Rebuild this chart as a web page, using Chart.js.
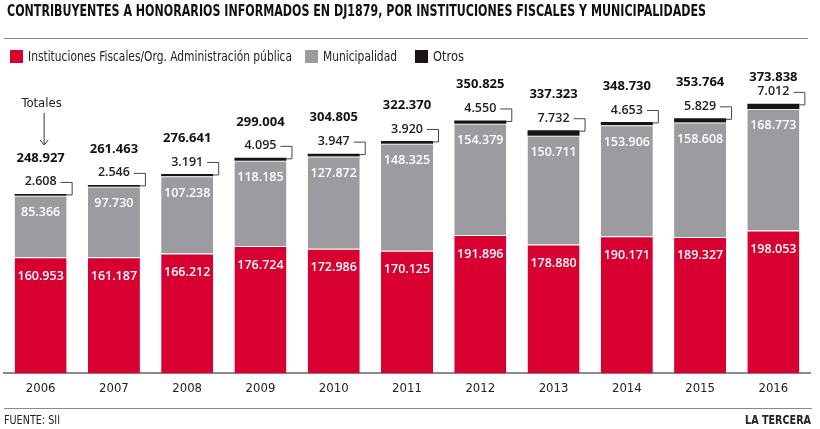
<!DOCTYPE html>
<html>
<head>
<meta charset="utf-8">
<script src="https://cdn.jsdelivr.net/npm/chart.js@4.4.1/dist/chart.umd.min.js"></script>
<style>
  body { margin: 0; background: #fff; }
  canvas { display: block; }
</style>
</head>
<body>
<canvas id="chart" width="820" height="429"></canvas>
<script>
// data
const years = ['2006', '2007', '2008', '2009', '2010', '2011', '2012', '2013', '2014', '2015', '2016'];
const fiscales = [160953, 161187, 166212, 176724, 172986, 170125, 191896, 178880, 190171, 189327, 198053];
const municipalidad = [85366, 97730, 107238, 118185, 127872, 148325, 154379, 150711, 153906, 158608, 168773];
const otros = [2608, 2546, 3191, 4095, 3947, 3920, 4550, 7732, 4653, 5829, 7012];
const totales = [248927, 261463, 276641, 299004, 304805, 322370, 350825, 337323, 348730, 353764, 373838];

const seriesNames = ['Instituciones Fiscales/Org. Administración pública', 'Municipalidad', 'Otros'];
const titleText = 'CONTRIBUYENTES A HONORARIOS INFORMADOS EN DJ1879, POR INSTITUCIONES FISCALES Y MUNICIPALIDADES';

const RED = '#d70030';
const GREY = '#9c9ba0';
const BLACK = '#1b1416';
const COND = '"DejaVu Sans Condensed", sans-serif';
const NUM = '"Open Sans", sans-serif';

function fmt(n) {
    return String(n).replace(/\B(?=(\d{3})+(?!\d))/g, '.');
}

// draw text squeezed to a given width
function fillFit(ctx, text, x, y, width) {
    const w = ctx.measureText(text).width;
    ctx.save();
    ctx.translate(x, y);
    ctx.scale(Math.min(1, width / w), 1);
    ctx.fillText(text, 0, 0);
    ctx.restore();
}

// numbers on and above the bars
const barLabels = {
    id: 'barLabels',
    afterDatasetsDraw(chart) {
        const ctx = chart.ctx;
        const red = chart.getDatasetMeta(0).data;
        const grey = chart.getDatasetMeta(1).data;
        const blk = chart.getDatasetMeta(2).data;
        ctx.save();
        ctx.textAlign = 'center';
        ctx.textBaseline = 'middle';
        for (let i = 0; i < years.length; i++) {
            ctx.fillStyle = '#fff';
            ctx.font = '600 12.5px ' + NUM;
            ctx.fillText(fmt(fiscales[i]), red[i].x, red[i].y + 19);
            ctx.fillText(fmt(municipalidad[i]), grey[i].x, grey[i].y + 17);

            // otros value with its bracket
            const b = blk[i];
            const oy = b.y - 12;
            ctx.fillStyle = '#222';
            ctx.font = '600 12.5px ' + NUM;
            const txt = fmt(otros[i]);
            ctx.fillText(txt, b.x, oy);
            const w = ctx.measureText(txt).width;
            const right = b.x + b.width / 2 + 5;
            ctx.strokeStyle = '#444';
            ctx.lineWidth = 1;
            ctx.beginPath();
            ctx.moveTo(b.x + w / 2 + 4, oy + 0.5);
            ctx.lineTo(right + 0.5, oy + 0.5);
            ctx.lineTo(right + 0.5, b.y + 1);
            ctx.lineTo(right - 5, b.y + 1);
            ctx.stroke();

            // total
            ctx.fillStyle = '#111';
            ctx.font = 'bold 13px ' + NUM;
            const ty = Math.max(oy - 24, 77);
            ctx.fillText(fmt(totales[i]), b.x, ty);
        }

        // "Totales" note with arrow over the first bar
        const first = blk[0];
        ctx.fillStyle = '#222';
        ctx.font = '13px ' + COND;
        ctx.fillText('Totales', first.x + 1, 104);
        ctx.strokeStyle = '#333';
        ctx.beginPath();
        ctx.moveTo(first.x + 3.5, 113);
        ctx.lineTo(first.x + 3.5, 145);
        ctx.moveTo(first.x - 0.5, 140);
        ctx.lineTo(first.x + 3.5, 145);
        ctx.lineTo(first.x + 7.5, 140);
        ctx.stroke();
        ctx.restore();
    }
};

// title, legend, rules and footer
const decor = {
    id: 'decor',
    afterDraw(chart) {
        const ctx = chart.ctx;
        ctx.save();
        ctx.textBaseline = 'middle';
        ctx.textAlign = 'left';
        ctx.fillStyle = '#111';
        ctx.font = 'bold 15px ' + COND;
        fillFit(ctx, titleText, 7, 12, 699);

        ctx.strokeStyle = '#8a8a8a';
        ctx.lineWidth = 1;
        ctx.beginPath();
        ctx.moveTo(4, 38.5);
        ctx.lineTo(808, 38.5);
        ctx.moveTo(4, 408.5);
        ctx.lineTo(812, 408.5);
        ctx.stroke();

        // legend
        const colors = [RED, GREY, BLACK];
        const boxX = [10, 305, 415];
        const textW = [264, 74, 31];
        ctx.font = '14px ' + COND;
        for (let k = 0; k < seriesNames.length; k++) {
            ctx.fillStyle = colors[k];
            ctx.fillRect(boxX[k], 50, 13, 13);
            ctx.fillStyle = '#222';
            fillFit(ctx, seriesNames[k], boxX[k] + 18, 57, textW[k]);
        }

        // footer
        ctx.font = '12px ' + COND;
        ctx.fillStyle = '#222';
        fillFit(ctx, 'FUENTE: SII', 4, 421, 56);
        ctx.font = 'bold 12px ' + COND;
        const lw = ctx.measureText('LA TERCERA').width;
        fillFit(ctx, 'LA TERCERA', 811 - Math.min(lw, 66), 421, 66);
        ctx.restore();
    }
};

const ctx = document.getElementById('chart');
const chart = new Chart(ctx, {
    type: 'bar',
    data: {
        labels: years,
        datasets: [
            {
                label: seriesNames[0],
                data: fiscales,
                backgroundColor: RED,
                borderColor: '#ffffff',
                borderWidth: { top: 1, left: 0, right: 0, bottom: 0 },
                borderSkipped: false
            },
            {
                label: seriesNames[1],
                data: municipalidad,
                backgroundColor: GREY,
                borderColor: '#e6e6e6',
                borderWidth: { top: 1, left: 0, right: 0, bottom: 0 },
                borderSkipped: false
            },
            {
                label: seriesNames[2],
                data: otros,
                backgroundColor: BLACK,
                borderWidth: 0
            }
        ]
    },
    options: {
        responsive: false,
        animation: false,
        categoryPercentage: 1,
        barPercentage: 0.71,
        layout: {
            padding: { left: 4, right: 10, top: 85, bottom: 26 }
        },
        scales: {
            x: {
                stacked: true,
                grid: { display: false, drawTicks: false },
                border: { display: true, color: '#8a8a8a', width: 2 },
                ticks: {
                    color: '#222',
                    padding: 7,
                    font: { family: COND, size: 13 }
                }
            },
            y: {
                stacked: true,
                display: false,
                min: 0,
                max: 400000
            }
        },
        plugins: {
            legend: { display: false },
            title: { display: false },
            tooltip: { enabled: false }
        }
    },
    plugins: [barLabels, decor]
});
</script>
</body>
</html>
